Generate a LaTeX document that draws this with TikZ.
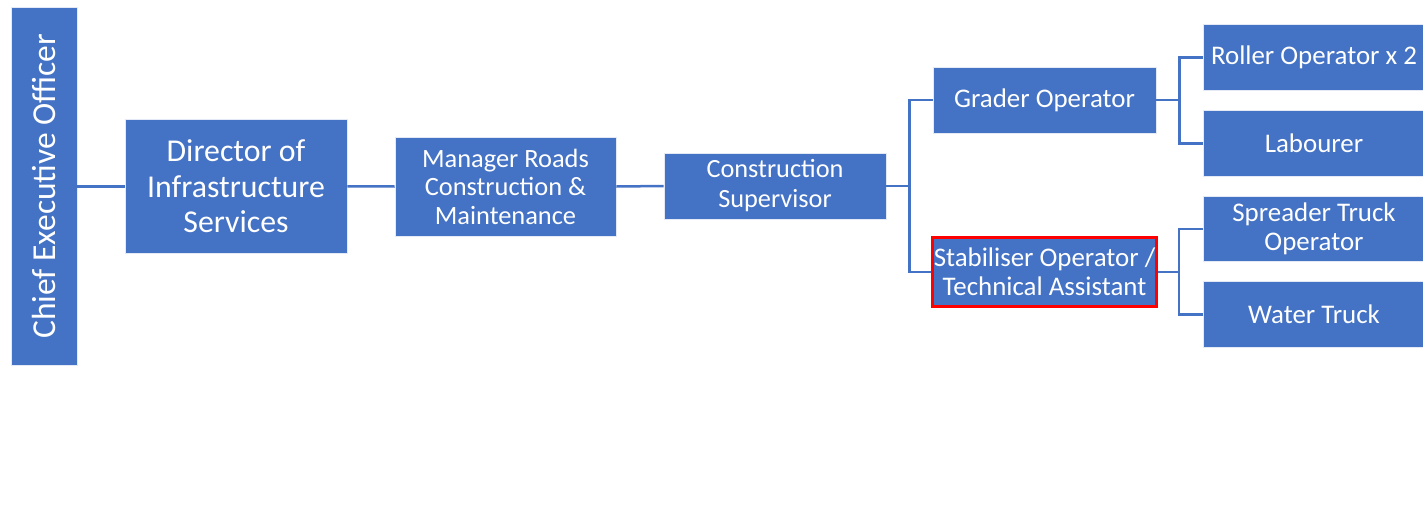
\documentclass[tikz,border=0pt]{standalone}
\usepackage{fontspec}
\setmainfont{Carlito}
\usepackage{xcolor}
\usetikzlibrary{positioning,calc}
\definecolor{officeblue}{HTML}{4472C4}

\begin{document}
\begin{tikzpicture}[x=1pt,y=-1pt,
  box/.style={fill=officeblue,draw=white!85!officeblue,line width=0.8pt,text=white,
    align=center,inner sep=0pt,font=\fontsize{26.9}{29}\selectfont},
  hl/.style={draw=red,line width=3pt},
  link/.style={draw=officeblue,line width=2.5pt}]
  \useasboundingbox (0,0) rectangle (1423,506);
  \def\W{222}
  \def\H{65.5}

  % first levels
  \node[box,rotate=90,minimum width=357.5pt,minimum height=65.5pt,
        font=\fontsize{33.5}{36}\selectfont] (ceo) at (44.25,186.25) {Chief Executive Officer};
  \node[box,minimum width=\W pt,minimum height=133.5pt,
        font=\fontsize{31.8}{35.5}\selectfont] (dir) at (236,186.25) {Director of\\Infrastructure\\Services};
  \node[box,minimum width=221pt,minimum height=99pt,
        font=\fontsize{26.4}{28.5}\selectfont] (mgr) at (505.5,186.5) {Manager Roads\\Construction \&\\Maintenance};
  \node[box,minimum width=\W pt,minimum height=66pt,
        font=\fontsize{26.3}{30}\selectfont] (sup) at (775,186) {Construction\\Supervisor};

  % operators
  \node[box,minimum width=223pt,minimum height=66pt] (grd) at (1044.5,100) {Grader Operator};
  \node[box,hl,minimum width=224pt,minimum height=69pt] (stb) at (1044.5,272) {Stabiliser Operator /\\Technical Assistant};

  % crews
  \node[box,minimum width=\W pt,minimum height=\H pt] (rol) at (1314,57.5) {Roller Operator x 2};
  \node[box,minimum width=\W pt,minimum height=\H pt] (lab) at (1314,143.5) {Labourer};
  \node[box,minimum width=\W pt,minimum height=\H pt] (spr) at (1314,229) {Spreader Truck\\Operator};
  \node[box,minimum width=\W pt,minimum height=\H pt] (wat) at (1314,314.5) {Water Truck};

  \draw[link] (ceo.south) -- (dir.west);
  \draw[link] (dir.east) -- (mgr.west);
  \draw[link] (mgr.east) -- (sup.west);

  \draw[link] (sup.east) -- ++(23,0) coordinate (b1);
  \draw[link] (b1) |- (grd.west);
  \draw[link] (b1) |- (stb.west);

  \draw[link] (grd.east) -- ++(23,0) coordinate (b2);
  \draw[link] (b2) |- (rol.west);
  \draw[link] (b2) |- (lab.west);

  \draw[link] (stb.east) -- ++(21,0) coordinate (b3);
  \draw[link] (b3) |- (spr.west);
  \draw[link] (b3) |- (wat.west);
\end{tikzpicture}
\end{document}
